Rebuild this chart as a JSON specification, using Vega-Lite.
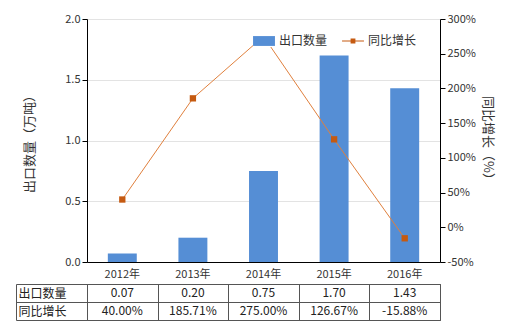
{
  "$schema": "https://vega.github.io/schema/vega-lite/v6.json",
  "padding": {"left": 15, "top": 13, "right": 24, "bottom": 0},
  "background": "white",
  "config": {
    "font": "Noto Sans CJK SC",
    "locale": {"number": {"decimal": ".", "thousands": ",", "grouping": [3], "currency": ["$", ""], "minus": "-"}},
    "axis": {"labelFont": "Noto Sans CJK SC", "titleFont": "Noto Sans CJK SC", "labelColor": "#333", "titleColor": "#333", "labelFontSize": 11, "titleFontSize": 13, "titleFontWeight": "normal"},
    "view": {"stroke": null}
  },
  "datasets": {
    "trade": [
      {"year": "2012年", "qty": 0.07, "growth": 0.40},
      {"year": "2013年", "qty": 0.20, "growth": 1.8571},
      {"year": "2014年", "qty": 0.75, "growth": 2.75},
      {"year": "2015年", "qty": 1.70, "growth": 1.2667},
      {"year": "2016年", "qty": 1.43, "growth": -0.1588}
    ]
  },
  "spacing": -2,
  "vconcat": [
    {
      "width": 353,
      "height": 243,
      "data": {"name": "trade"},
      "encoding": {
        "x": {"field": "year", "type": "nominal", "sort": null,
          "scale": {"paddingInner": 0.59, "paddingOuter": 0.295},
          "axis": {"title": null, "labelAngle": 0, "ticks": false, "domainColor": "#000", "labelPadding": 6, "grid": false}}
      },
      "layer": [
        {
          "mark": {"type": "bar", "color": "#558ed5"},
          "encoding": {
            "y": {"field": "qty", "type": "quantitative",
              "scale": {"domain": [0, 2]},
              "axis": {"title": "出口数量（万吨）", "values": [0, 0.5, 1, 1.5, 2], "format": ".1f", "domainColor": "#000", "tickColor": "#000", "gridColor": "#e3e3e3", "titlePadding": 28}},
            "color": {"datum": "出口数量", "type": "nominal",
              "scale": {"domain": ["出口数量", "同比增长"], "range": ["#558ed5", "#c55a11"]},
              "legend": {"title": null, "orient": "none", "legendX": 166, "legendY": 11, "direction": "horizontal", "columns": 2, "columnPadding": 14, "fillColor": "white", "labelFontSize": 12, "labelColor": "#333", "symbolOpacity": 1,
                "encode": {"symbols": {"update": {"shape": {"signal": "datum.value === '出口数量' ? 'M-1,-0.45H1V0.45H-1Z' : 'M-1,-0.05H1V0.05H-1Z M-0.22,-0.22H0.22V0.22H-0.22Z'"}, "size": {"value": 480}, "strokeWidth": {"value": 0}}}}}}
          }
        },
        {
          "mark": {"type": "line", "color": "#e0803d", "strokeWidth": 1, "point": {"shape": "square", "size": 40, "filled": true, "color": "#c55a11"}},
          "encoding": {
            "y": {"field": "growth", "type": "quantitative",
              "scale": {"domain": [-0.5, 3]},
              "axis": {"title": "同比增长（%）", "orient": "right", "values": [-0.5, 0, 0.5, 1, 1.5, 2, 2.5, 3], "format": ".0%", "grid": false, "domainColor": "#000", "tickColor": "#000", "titlePadding": 5}}
          }
        }
      ],
      "resolve": {"scale": {"y": "independent"}}
    },
    {
      "width": 353,
      "height": 36,
      "data": {"name": "trade"},
      "view": {"stroke": "#555"},
      "encoding": {
        "x": {"field": "year", "type": "nominal", "sort": null,
          "scale": {"paddingInner": 0, "paddingOuter": 0},
          "axis": {"title": null, "labels": false, "ticks": false, "domain": false, "grid": true, "tickBand": "extent", "gridColor": "#555", "orient": "bottom"}}
      },
      "layer": [
        {
          "mark": {"type": "text", "fontSize": 12, "color": "#222"},
          "encoding": {
            "y": {"datum": "出口数量", "type": "nominal",
              "scale": {"domain": ["出口数量", "同比增长"], "paddingInner": 0, "paddingOuter": 0},
              "axis": {"title": null, "offset": 71, "tickBand": "extent", "tickSize": -71, "tickColor": "#555", "domainColor": "#555", "grid": true, "gridColor": "#555", "labelAlign": "left", "labelPadding": 69, "labelFontSize": 12, "labelColor": "#222"}},
            "text": {"field": "qty", "type": "quantitative", "format": ".2f"}
          }
        },
        {
          "mark": {"type": "text", "fontSize": 12, "color": "#222"},
          "encoding": {
            "y": {"datum": "同比增长", "type": "nominal"},
            "text": {"field": "growth", "type": "quantitative", "format": ".2%"}
          }
        }
      ]
    }
  ]
}
